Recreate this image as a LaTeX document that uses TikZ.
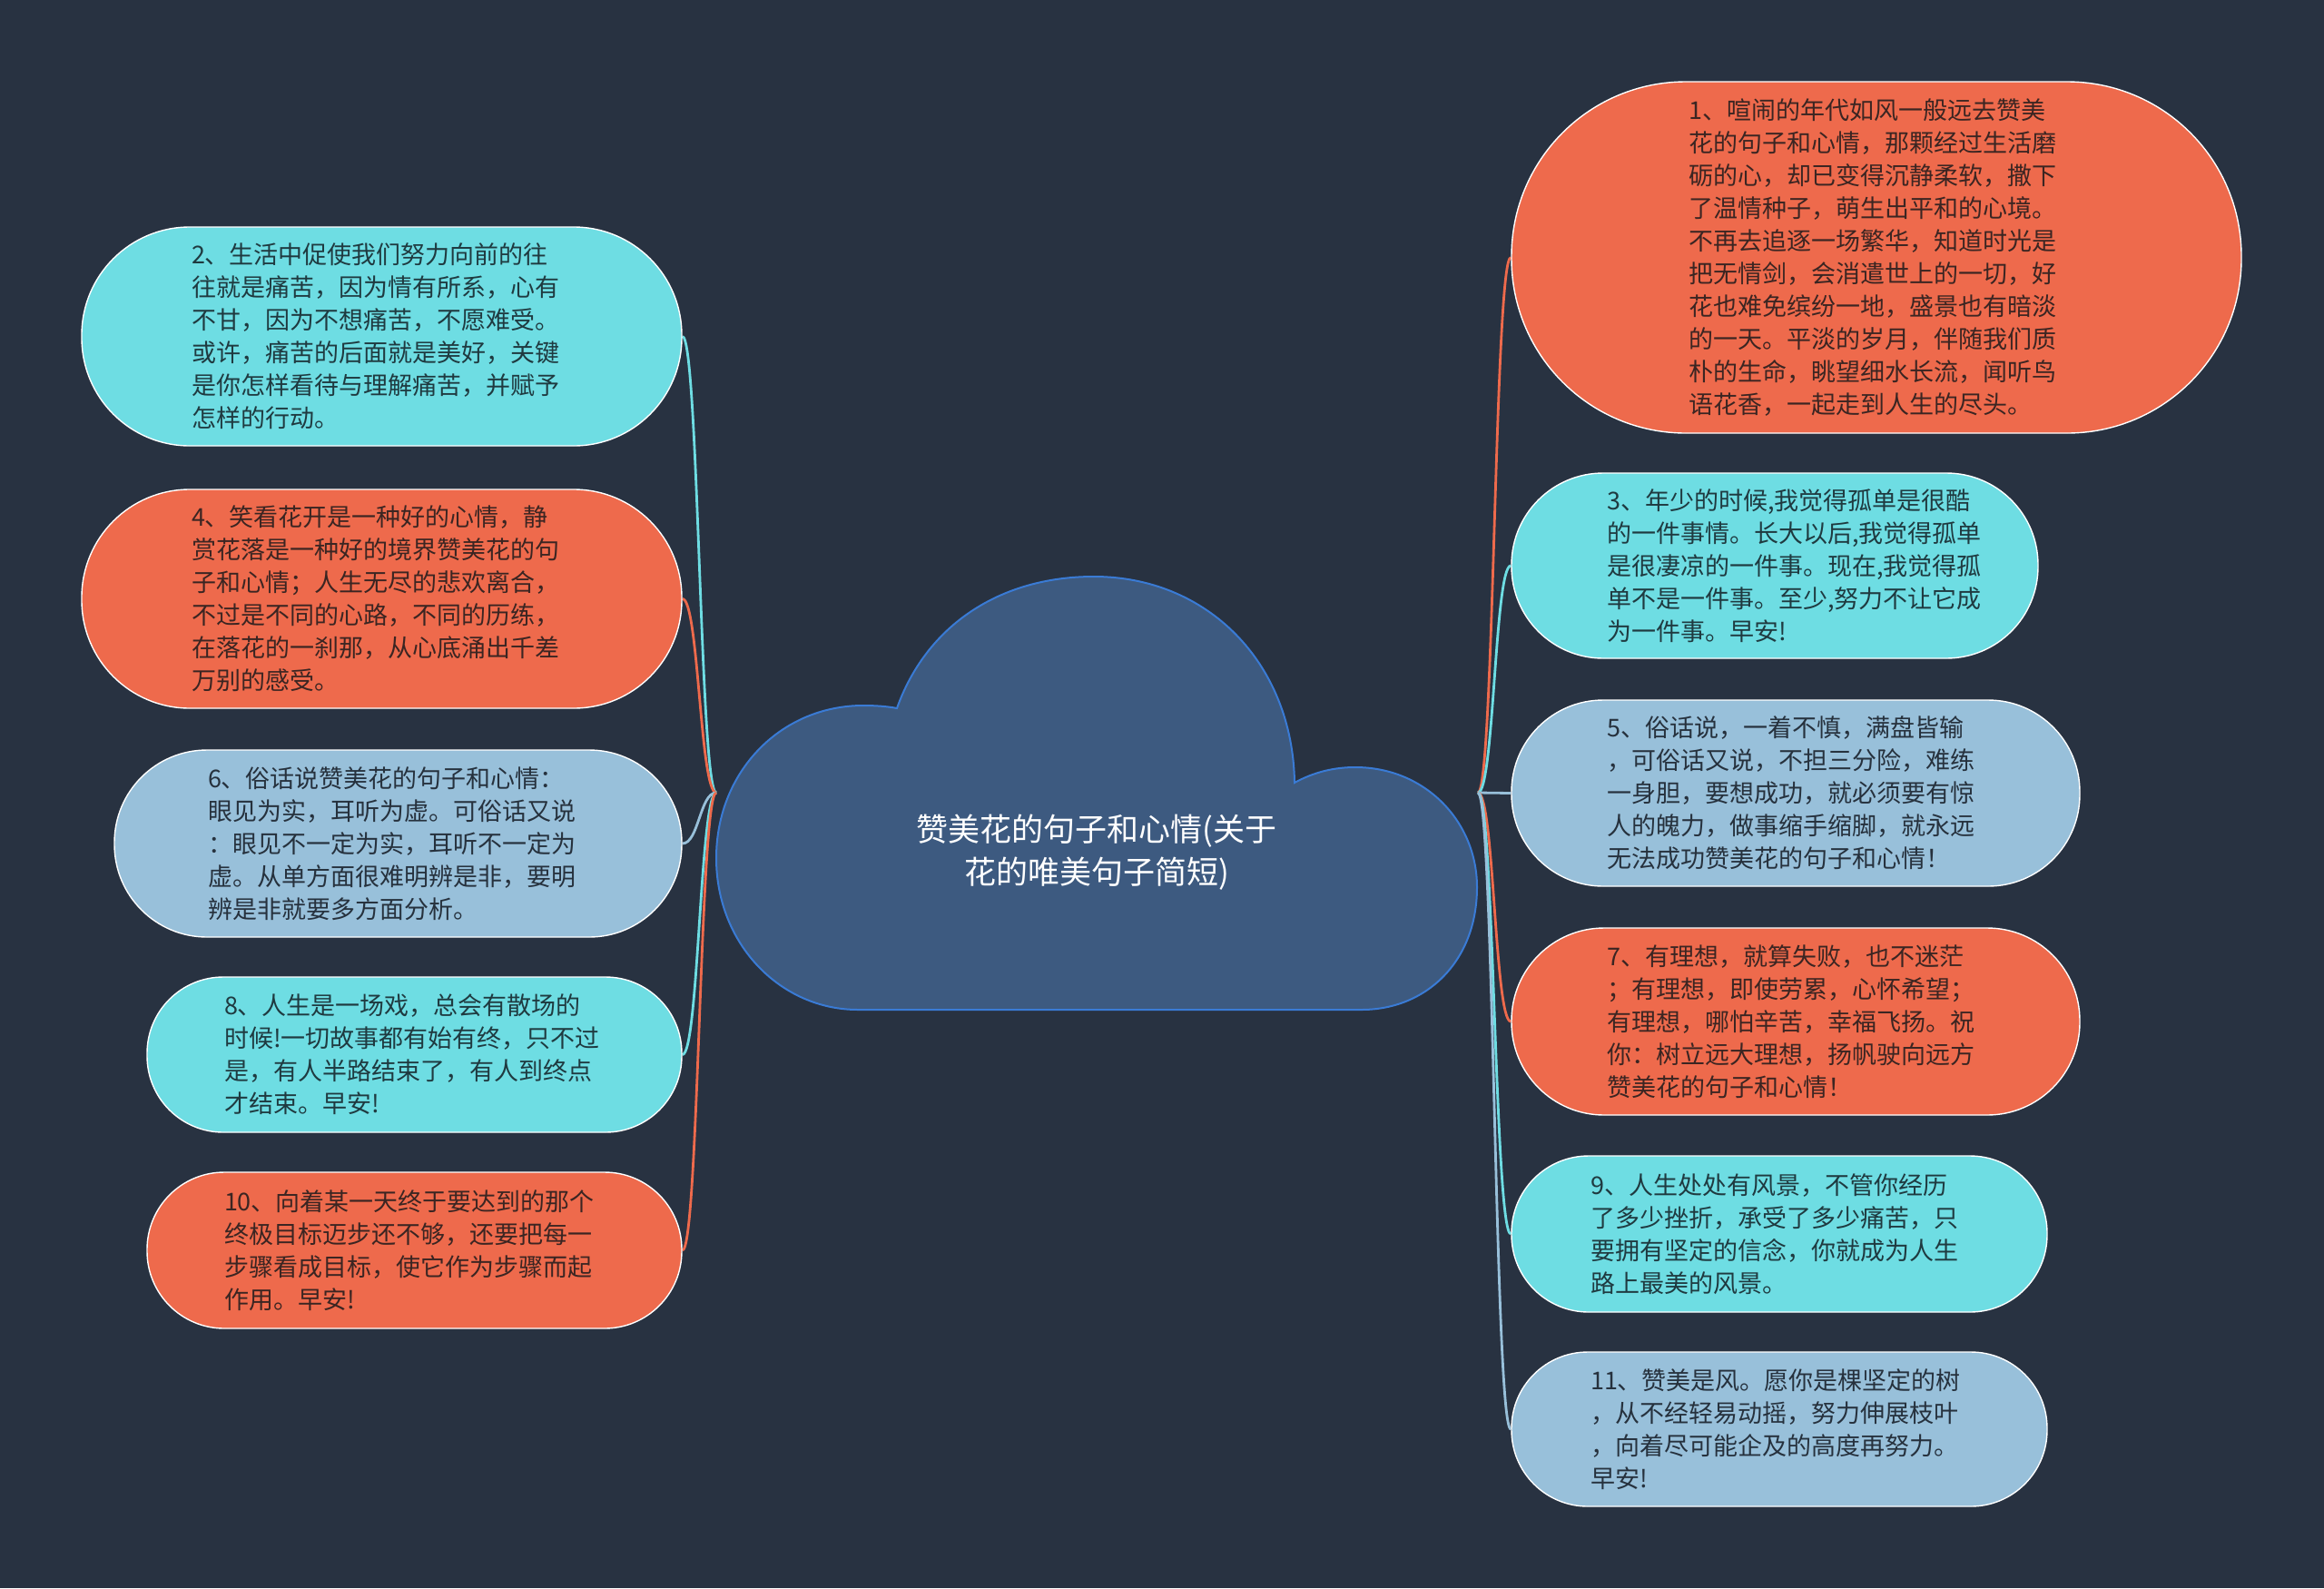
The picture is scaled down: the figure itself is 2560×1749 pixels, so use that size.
\documentclass[tikz,border=0pt]{standalone}
\usepackage{fontspec}
\setmainfont{Noto Sans CJK SC}
\definecolor{bgc}{HTML}{283241}
\definecolor{orc}{HTML}{EE6A4C}
\definecolor{cyc}{HTML}{6EDDE3}
\definecolor{lbc}{HTML}{98C0DA}
\definecolor{cloudfill}{HTML}{3D5A80}
\definecolor{cloudline}{HTML}{3A7BD5}
\definecolor{ortx}{HTML}{3B2522}
\definecolor{cytx}{HTML}{1F3A40}
\definecolor{lbtx}{HTML}{26313D}
\pgfdeclarelayer{back}
\pgfsetlayers{back,main}
\begin{document}
\begin{tikzpicture}[x=1pt,y=-1pt,
  bubble/.style={draw=white, line width=1.4pt, inner sep=0pt, align=left,
    font=\fontsize{27pt}{36pt}\selectfont},
  orb/.style={bubble, fill=orc, text=ortx},
  cyb/.style={bubble, fill=cyc, text=cytx},
  lbb/.style={bubble, fill=lbc, text=lbtx},
  conn/.style={line width=2.8pt}]
\useasboundingbox (0,0) rectangle (2560,1749);

% central cloud
\draw[fill=cloudfill, draw=cloudline, line width=2pt]
  (988,780) .. controls (1020,690) and (1100,635) .. (1205,635)
  .. controls (1330,635) and (1424,730) .. (1426,862)
  .. controls (1448,850) and (1470,845) .. (1493,845)
  .. controls (1570,845) and (1627,905) .. (1627,977)
  .. controls (1627,1060) and (1570,1112) .. (1500,1112)
  -- (945,1112)
  .. controls (860,1112) and (789,1040) .. (789,945)
  .. controls (789,850) and (860,777) .. (951,777)
  .. controls (965,777) and (978,778) .. (988,780) -- cycle;
\node[text=white, align=center, font=\fontsize{35pt}{47pt}\selectfont] (root) at (1208,939)
  {赞美花的句子和心情(关于\\花的唯美句子简短)};
\coordinate (rootR) at (1628,873);
\coordinate (rootL) at (789,873);

% right side
\node[orb, minimum width=804, minimum height=387, rounded corners=192, text width=414] (n1) at (2067,283.5)
{1、喧闹的年代如风一般远去赞美\\花的句子和心情，那颗经过生活磨\\砺的心，却已变得沉静柔软，撒下\\了温情种子，萌生出平和的心境。\\不再去追逐一场繁华，知道时光是\\把无情剑，会消遣世上的一切，好\\花也难免缤纷一地，盛景也有暗淡\\的一天。平淡的岁月，伴随我们质\\朴的生命，眺望细水长流，闻听鸟\\语花香，一起走到人生的尽头。};
\node[cyb, minimum width=580, minimum height=204, rounded corners=101, text width=370] (n3) at (1955,623)
{3、年少的时候,我觉得孤单是很酷\\的一件事情。长大以后,我觉得孤单\\是很凄凉的一件事。现在,我觉得孤\\单不是一件事。至少,努力不让它成\\为一件事。早安!};
\node[lbb, minimum width=626, minimum height=205, rounded corners=101, text width=416] (n5) at (1978,873.5)
{5、俗话说，一着不慎，满盘皆输\\，可俗话又说，不担三分险，难练\\一身胆，要想成功，就必须要有惊\\人的魄力，做事缩手缩脚，就永远\\无法成功赞美花的句子和心情！};
\node[orb, minimum width=626, minimum height=206, rounded corners=102, text width=416] (n7) at (1978,1125)
{7、有理想，就算失败，也不迷茫\\；有理想，即使劳累，心怀希望；\\有理想，哪怕辛苦，幸福飞扬。祝\\你：树立远大理想，扬帆驶向远方\\赞美花的句子和心情！};
\node[cyb, minimum width=590, minimum height=172, rounded corners=85, text width=416] (n9) at (1960,1359)
{9、人生处处有风景，不管你经历\\了多少挫折，承受了多少痛苦，只\\要拥有坚定的信念，你就成为人生\\路上最美的风景。};
\node[lbb, minimum width=590, minimum height=170, rounded corners=84, text width=416] (n11) at (1960,1574)
{11、赞美是风。愿你是棵坚定的树\\，从不经轻易动摇，努力伸展枝叶\\，向着尽可能企及的高度再努力。\\早安!};

% left side
\node[cyb, minimum width=661, minimum height=241, rounded corners=119, text width=419] (n2) at (420.5,370.5)
{2、生活中促使我们努力向前的往\\往就是痛苦，因为情有所系，心有\\不甘，因为不想痛苦，不愿难受。\\或许，痛苦的后面就是美好，关键\\是你怎样看待与理解痛苦，并赋予\\怎样的行动。};
\node[orb, minimum width=661, minimum height=241, rounded corners=119, text width=419] (n4) at (420.5,659.5)
{4、笑看花开是一种好的心情，静\\赏花落是一种好的境界赞美花的句\\子和心情；人生无尽的悲欢离合，\\不过是不同的心路，不同的历练，\\在落花的一刹那，从心底涌出千差\\万别的感受。};
\node[lbb, minimum width=625, minimum height=206, rounded corners=102, text width=419] (n6) at (438.5,929)
{6、俗话说赞美花的句子和心情：\\眼见为实，耳听为虚。可俗话又说\\：眼见不一定为实，耳听不一定为\\虚。从单方面很难明辨是非，要明\\辨是非就要多方面分析。};
\node[cyb, minimum width=589, minimum height=171, rounded corners=84, text width=419] (n8) at (456.5,1161.5)
{8、人生是一场戏，总会有散场的\\时候!一切故事都有始有终，只不过\\是，有人半路结束了，有人到终点\\才结束。早安!};
\node[orb, minimum width=589, minimum height=172, rounded corners=85, text width=419] (n10) at (456.5,1377)
{10、向着某一天终于要达到的那个\\终极目标迈步还不够，还要把每一\\步骤看成目标，使它作为步骤而起\\作用。早安!};

\begin{pgfonlayer}{back}
\fill[bgc] (0,0) rectangle (2560,1749);
\draw[conn, orc] (rootR) .. controls +(18,0) and +(-18,0) .. (n1.west);
\draw[conn, cyc] (rootR) .. controls +(18,0) and +(-18,0) .. (n3.west);
\draw[conn, lbc] (rootR) .. controls +(18,0) and +(-18,0) .. (n5.west);
\draw[conn, orc] (rootR) .. controls +(18,0) and +(-18,0) .. (n7.west);
\draw[conn, cyc] (rootR) .. controls +(18,0) and +(-18,0) .. (n9.west);
\draw[conn, lbc] (rootR) .. controls +(18,0) and +(-18,0) .. (n11.west);
\draw[conn, cyc] (rootL) .. controls +(-18,0) and +(18,0) .. (n2.east);
\draw[conn, orc] (rootL) .. controls +(-18,0) and +(18,0) .. (n4.east);
\draw[conn, lbc] (rootL) .. controls +(-18,0) and +(18,0) .. (n6.east);
\draw[conn, cyc] (rootL) .. controls +(-18,0) and +(18,0) .. (n8.east);
\draw[conn, orc] (rootL) .. controls +(-18,0) and +(18,0) .. (n10.east);
\end{pgfonlayer}
\end{tikzpicture}
\end{document}
